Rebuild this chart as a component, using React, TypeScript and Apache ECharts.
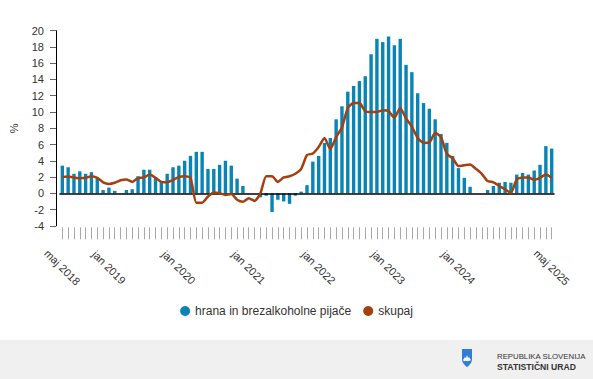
import React, { useEffect, useRef } from "react";
import * as echarts from "echarts";

const monthNames = ["jan", "feb", "mar", "apr", "maj", "jun", "jul", "avg", "sep", "okt", "nov", "dec"];
const categories: string[] = [];
for (let k = 0; k < 85; k++) {
  const m = (4 + k) % 12;
  const y = 2018 + Math.floor((4 + k) / 12);
  categories.push(`${monthNames[m]} ${y}`);
}

const shownLabels = ["maj 2018", "jan 2019", "jan 2020", "jan 2021", "jan 2022", "jan 2023", "jan 2024", "maj 2025"];

// hrana in brezalkoholne pijače (maj 2018 – maj 2025)
const foodValues = [
  3.4, 3.2, 2.4, 2.7, 2.4, 2.6, 1.9, 0.4,
  0.7, 0.3, 0.0, 0.4, 0.5, 2.1, 2.9, 2.9, 1.9, 1.5, 2.4, 3.2,
  3.4, 4.0, 4.6, 5.1, 5.1, 3.0, 3.0, 3.5, 4.0, 3.4, 1.8, 0.9,
  0.0, 0.0, -0.5, -0.3, -2.3, -0.8, -1.0, -1.3, -0.3, 0.2, 1.0, 3.9,
  4.6, 6.2, 6.8, 9.1, 10.7, 12.5, 13.2, 13.8, 14.4, 17.1, 19.0, 18.6,
  19.3, 18.2, 19.0, 15.8, 14.9, 12.3, 11.1, 10.4, 9.1, 7.3, 6.2, 4.6,
  3.1, 1.9, 0.8, 0.0, 0.0, 0.4, 0.9, 1.3, 1.4, 1.3, 2.3, 2.5,
  2.3, 2.8, 3.5, 5.8, 5.5,
];

// skupaj
const totalValues = [
  2.0, 2.05, 1.95, 1.85, 1.9, 2.1, 1.9, 1.35,
  1.15, 1.3, 1.6, 1.7, 1.4, 1.85, 1.95, 2.3, 1.9, 1.4, 1.35, 1.65,
  2.0, 2.1, 1.9, -1.15, -1.15, -0.4, 0.1, 0.0, -0.2, -0.1, -0.8, -1.05,
  -0.6, -0.95, 0.0, 2.1, 2.1, 1.4, 1.95, 2.1, 2.4, 3.0, 4.7, 4.9,
  5.7, 6.8, 5.45, 6.9, 8.1, 10.5, 11.1, 11.1, 10.1, 10.0, 10.0, 10.2,
  10.1, 9.3, 10.5, 9.2, 8.2, 6.8, 6.2, 6.25, 7.45, 6.9, 4.85, 4.3,
  3.35, 3.45, 3.55, 3.0, 2.4, 1.5, 1.35, 0.9, 0.5, 0.05, 1.7, 1.95,
  1.95, 1.65, 1.9, 2.3, 1.9,
];

const FONT = "'Liberation Sans', Arial, sans-serif";
const BAR_COLOR = "#0a84b4";
const LINE_COLOR = "#a3400e";

export default function App() {
  const ref = useRef<HTMLDivElement>(null);

  useEffect(() => {
    if (!ref.current) return;
    try {
      echarts.graphic.registerShape(
        "shieldLogo",
        echarts.graphic.extendPath(
          "M0,0 L10,0 L10,10 C10,14 7,16.5 5,18 C3,16.5 0,14 0,10 Z",
          {}
        )
      );
      echarts.graphic.registerShape(
        "shieldMountain",
        echarts.graphic.extendPath(
          "M1,11 L3,8 L4,9 L5,6 L6,9 L7,8 L9,11 C8,12 7,11.5 6,12 C5,12.5 4,11.5 3,12 C2,12.5 1.5,11.8 1,11 Z",
          {}
        )
      );
    } catch (e) {
      // already registered
    }
    const chart = echarts.init(ref.current, undefined, { renderer: "svg" });
    chart.setOption({
      animation: false,
      textStyle: { fontFamily: FONT },
      grid: { left: 54.4, right: 38.4, top: 30.7, bottom: 153.2, containLabel: false },
      legend: {
        data: ["hrana in brezalkoholne pijače", "skupaj"],
        top: 300,
        left: "center",
        icon: "circle",
        itemWidth: 10,
        itemHeight: 10,
        itemGap: 12,
        textStyle: { fontSize: 12, color: "#333", fontFamily: FONT },
      },
      xAxis: {
        type: "category",
        data: categories,
        boundaryGap: true,
        offset: 1.5,
        axisLine: { show: false, onZero: false },
        axisTick: {
          show: true,
          alignWithLabel: true,
          interval: 0,
          length: 12,
          lineStyle: { color: "#aaa", width: 1 },
        },
        axisLabel: {
          interval: (_i: number, v: string) => shownLabels.includes(v),
          rotate: -45,
          align: "center",
          verticalAlign: "middle",
          margin: 40,
          fontSize: 11,
          color: "#333",
          fontFamily: FONT,
        },
        splitLine: { show: false },
      },
      yAxis: {
        type: "value",
        min: -4,
        max: 20,
        interval: 2,
        offset: 3.4,
        name: "%",
        nameLocation: "middle",
        nameRotate: 90,
        nameGap: 37,
        nameTextStyle: { fontSize: 11, color: "#333", fontFamily: FONT },
        axisLine: { show: true, lineStyle: { color: "#000", width: 1 } },
        axisTick: { show: true, length: 6, lineStyle: { color: "#666" } },
        axisLabel: { fontSize: 11, color: "#333", margin: 12, fontFamily: FONT },
        splitLine: { show: false },
      },
      series: [
        {
          name: "hrana in brezalkoholne pijače",
          type: "bar",
          data: foodValues,
          barWidth: 3.4,
          itemStyle: { color: BAR_COLOR },
          markLine: {
            silent: true,
            symbol: "none",
            label: { show: false },
            lineStyle: { color: "#000", width: 1.5, type: "solid" },
            data: [{ yAxis: 0 }],
          },
          z: 2,
        },
        {
          name: "skupaj",
          type: "line",
          data: totalValues,
          symbol: "none",
          smooth: 0.2,
          lineStyle: { color: LINE_COLOR, width: 2.5 },
          itemStyle: { color: LINE_COLOR },
          z: 5,
        },
      ],
      graphic: [
        {
          type: "rect",
          left: 0,
          top: 340,
          shape: { x: 0, y: 0, width: 593, height: 39 },
          style: { fill: "#f0f0f0" },
          silent: true,
        },
        {
          type: "shieldLogo",
          x: 462,
          y: 349,
          scaleX: 1,
          scaleY: 1,
          style: { fill: "#2f7fd6" },
        },
        {
          type: "shieldMountain",
          x: 462,
          y: 349,
          scaleX: 1,
          scaleY: 1,
          style: { fill: "#ffffff" },
        },
        {
          type: "text",
          x: 497,
          y: 352,
          style: { text: "REPUBLIKA SLOVENIJA", fontSize: 7.8, fill: "#333", fontFamily: FONT },
        },
        {
          type: "text",
          x: 497,
          y: 362,
          style: { text: "STATISTIČNI URAD", fontSize: 8.6, fontWeight: "bold", fill: "#333", fontFamily: FONT },
        },
      ],
    });
    return () => chart.dispose();
  }, []);

  return (
    <div
      ref={ref}
      style={{ position: "fixed", left: 0, top: 0, width: 593, height: 379, background: "#fff" }}
    />
  );
}
